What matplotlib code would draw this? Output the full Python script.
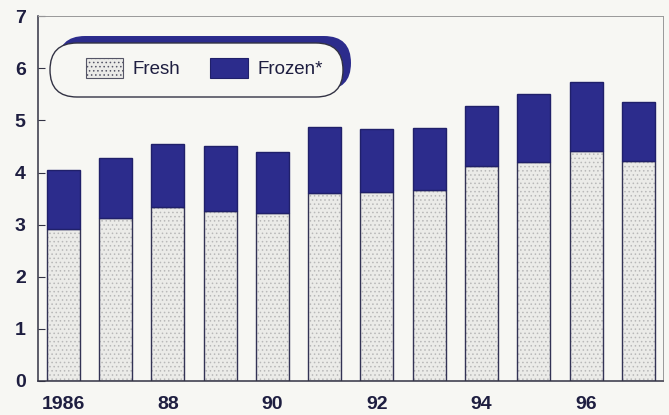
import matplotlib.pyplot as plt
from matplotlib.patches import FancyBboxPatch, Patch
from matplotlib.transforms import IdentityTransform

years = [1986, 1987, 1988, 1989, 1990, 1991, 1992, 1993, 1994, 1995, 1996, 1997]
fresh = [2.91, 3.13, 3.33, 3.26, 3.23, 3.60, 3.63, 3.66, 4.12, 4.20, 4.42, 4.23]
frozen = [1.13, 1.15, 1.21, 1.25, 1.16, 1.27, 1.21, 1.20, 1.16, 1.30, 1.32, 1.13]
tick_years = [1986, 1988, 1990, 1992, 1994, 1996]
tick_labels = ["1986", "88", "90", "92", "94", "96"]

NAVY = "#2c2c8c"
FRESH_FILL = "#ebebe8"
BG = "#f7f7f3"
INK = "#1e1e40"

plt.rcParams["font.family"] = ["Liberation Sans", "DejaVu Sans"]
plt.rcParams["hatch.linewidth"] = 0.6

fig = plt.figure(figsize=(6.69, 4.15), dpi=100, facecolor=BG)
ax = fig.add_axes([0.057, 0.082, 0.934, 0.879])
ax.set_facecolor(BG)

width = 0.63
# stippled fresh part, then outline on top
ax.bar(years, fresh, width, color=FRESH_FILL, hatch="....", edgecolor="#b8b8b8", linewidth=0)
ax.bar(years, fresh, width, fill=False, edgecolor="#333355", linewidth=1.0)
ax.bar(years, frozen, width, bottom=fresh, color=NAVY, edgecolor="#20206a", linewidth=1.0)

ax.set_xlim(1985.52, 1997.47)
ax.set_ylim(0, 7)
ax.set_yticks(range(8))
ax.set_xticks(tick_years)
ax.set_xticklabels(tick_labels)
ax.tick_params(axis="x", length=0, pad=11, labelsize=14, labelcolor=INK)
ax.tick_params(axis="y", length=5, direction="in", pad=9, labelsize=14,
               width=0.8, labelcolor=INK, color="#333344")
for lbl in ax.get_xticklabels() + ax.get_yticklabels():
    lbl.set_fontweight("bold")

for s in ["left", "bottom"]:
    ax.spines[s].set_color("#333344")
    ax.spines[s].set_linewidth(1.1)
for s in ["top", "right"]:
    ax.spines[s].set_color("#999999")
    ax.spines[s].set_linewidth(0.7)

# pill shaped legend box with navy shadow (pixel coords)
tr = IdentityTransform()
shadow = FancyBboxPatch((58, 325), 293, 54, boxstyle="round,pad=0,rounding_size=27",
                        transform=tr, facecolor=NAVY, edgecolor="none", zorder=5)
box = FancyBboxPatch((50, 318), 293, 54, boxstyle="round,pad=0,rounding_size=27",
                     transform=tr, facecolor=BG, edgecolor="#333344", linewidth=1.0, zorder=6)
fig.patches.extend([shadow, box])

handles = [
    Patch(facecolor=FRESH_FILL, hatch="....", edgecolor="#555566", linewidth=0.8),
    Patch(facecolor=NAVY, edgecolor="#20206a", linewidth=0.8),
]
leg = fig.legend(handles, ["Fresh", "Frozen*"], loc="center", ncol=2,
                 bbox_to_anchor=(0.305, 0.836), frameon=False, fontsize=13.5,
                 handlelength=2.0, handleheight=1.3, handletextpad=0.5,
                 columnspacing=1.6, labelcolor=INK)
leg.set_zorder(7)

fig.savefig("out.png", dpi=100, facecolor=BG)
